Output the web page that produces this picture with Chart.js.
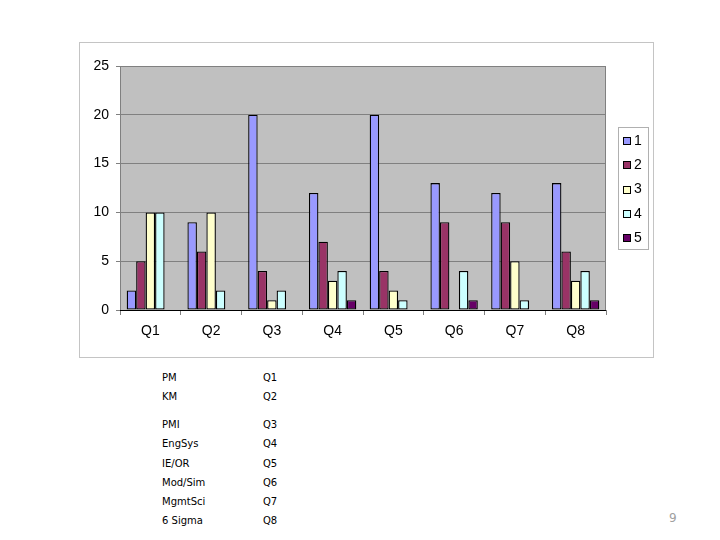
<!DOCTYPE html>
<html>
<head>
<meta charset="utf-8">
<script src="https://cdn.jsdelivr.net/npm/chart.js"></script>
<style>
  body { margin: 0; background: #fff; width: 720px; height: 540px; position: relative; overflow: hidden; }
  #box { position: absolute; left: 79px; top: 42px; width: 573px; height: 314px; border: 1px solid #c4c4c4; }
  #box canvas { display: block; }
  .row { position: absolute; font-family: "DejaVu Sans", Tahoma, sans-serif; font-size: 10px; color: #000; }
  #page { position: absolute; left: 669px; top: 511px; font-family: "DejaVu Sans", sans-serif; font-size: 12px; color: #a0a0a0; }
</style>
</head>
<body>
<div id="box"><canvas id="qChart" width="573" height="314"></canvas></div>
<div id="notes"></div>
<div id="page">9</div>
<script>
const categories = ['Q1', 'Q2', 'Q3', 'Q4', 'Q5', 'Q6', 'Q7', 'Q8'];
const series1 = [2, 9, 20, 12, 20, 13, 12, 13];
const series2 = [5, 6, 4, 7, 4, 9, 9, 6];
const series3 = [10, 10, 1, 3, 2, 0, 5, 3];
const series4 = [10, 2, 2, 4, 1, 4, 1, 4];
const series5 = [0, 0, 0, 1, 0, 1, 0, 1];
const seriesNames = ['1', '2', '3', '4', '5'];
const seriesColors = ['#9999FF', '#993366', '#FFFFCC', '#CCFFFF', '#660066'];
const yTicks = [0, 5, 10, 15, 20, 25];
const topicNames = ['PM', 'KM', 'PMI', 'EngSys', 'IE/OR', 'Mod/Sim', 'MgmtSci', '6 Sigma'];
const topicRows = [372, 391, 419, 438, 458, 477, 496, 515];

// key table under the chart
const notes = document.getElementById('notes');
topicNames.forEach(function(name, i) {
    const a = document.createElement('div');
    a.className = 'row';
    a.style.left = '162px';
    a.style.top = topicRows[i] + 'px';
    a.textContent = name;
    notes.appendChild(a);
    const b = document.createElement('div');
    b.className = 'row';
    b.style.left = '263px';
    b.style.top = topicRows[i] + 'px';
    b.textContent = categories[i];
    notes.appendChild(b);
});

const excelLook = {
    id: 'excelLook',
    beforeDraw(chart) {
        const a = chart.chartArea;
        const ctx = chart.ctx;
        ctx.save();
        ctx.fillStyle = '#C0C0C0';
        ctx.fillRect(a.left, a.top, a.right - a.left, a.bottom - a.top);
        ctx.restore();
    },
    afterDatasetsDraw(chart) {
        const a = chart.chartArea;
        const ctx = chart.ctx;
        ctx.save();
        ctx.strokeStyle = '#808080';
        ctx.lineWidth = 1;
        ctx.strokeRect(a.left + 0.5, a.top + 0.5, a.right - a.left - 1, a.bottom - a.top);
        ctx.strokeStyle = '#000';
        ctx.beginPath();
        ctx.moveTo(a.left, a.bottom + 0.5);
        ctx.lineTo(a.right, a.bottom + 0.5);
        ctx.stroke();

        // legend box
        const lx = 538, ly = 84, lw = 30, lh = 122;
        ctx.strokeStyle = '#b0b0b0';
        ctx.strokeRect(lx + 0.5, ly + 0.5, lw, lh);
        ctx.font = '14px "Liberation Sans", Arial, sans-serif';
        ctx.textBaseline = 'middle';
        chart.data.datasets.forEach(function(ds, i) {
            const y = ly + 14 + i * 24.3;
            ctx.fillStyle = ds.backgroundColor;
            ctx.fillRect(lx + 5.5, Math.round(y - 4) + 0.5, 7, 7);
            ctx.strokeStyle = '#000';
            ctx.strokeRect(lx + 5.5, Math.round(y - 4) + 0.5, 7, 7);
            ctx.fillStyle = '#000';
            ctx.fillText(ds.label, lx + 16, y);
        });
        ctx.restore();
    }
};

const allSeries = [series1, series2, series3, series4, series5];

new Chart(document.getElementById('qChart'), {
    type: 'bar',
    data: {
        labels: categories,
        datasets: allSeries.map(function(vals, i) {
            return {
                label: seriesNames[i],
                data: vals,
                backgroundColor: seriesColors[i],
                borderColor: '#000',
                borderWidth: 1.3,
                borderSkipped: false,
                categoryPercentage: 0.78,
                barPercentage: 1.0
            };
        })
    },
    options: {
        responsive: false,
        animation: false,
        layout: { padding: { top: 23, right: 47, left: 0, bottom: 0 } },
        plugins: {
            legend: { display: false },
            tooltip: { enabled: false }
        },
        scales: {
            x: {
                afterFit: function(s) { s.height = 47; },
                grid: {
                    drawOnChartArea: false,
                    drawTicks: true,
                    tickLength: 5,
                    color: '#808080',
                    offset: true
                },
                border: { display: false },
                ticks: {
                    color: '#000',
                    padding: 8,
                    font: { family: '"Liberation Sans", Arial, sans-serif', size: 14 }
                }
            },
            y: {
                min: 0,
                max: 25,
                afterFit: function(s) { s.width = 40; },
                afterBuildTicks: function(s) { s.ticks = yTicks.map(function(v) { return { value: v }; }); },
                grid: {
                    color: '#808080',
                    tickLength: 4,
                    drawTicks: true
                },
                border: { color: '#808080' },
                ticks: {
                    color: '#000',
                    padding: 7,
                    font: { family: '"Liberation Sans", Arial, sans-serif', size: 14 }
                }
            }
        }
    },
    plugins: [excelLook]
});
</script>
</body>
</html>
